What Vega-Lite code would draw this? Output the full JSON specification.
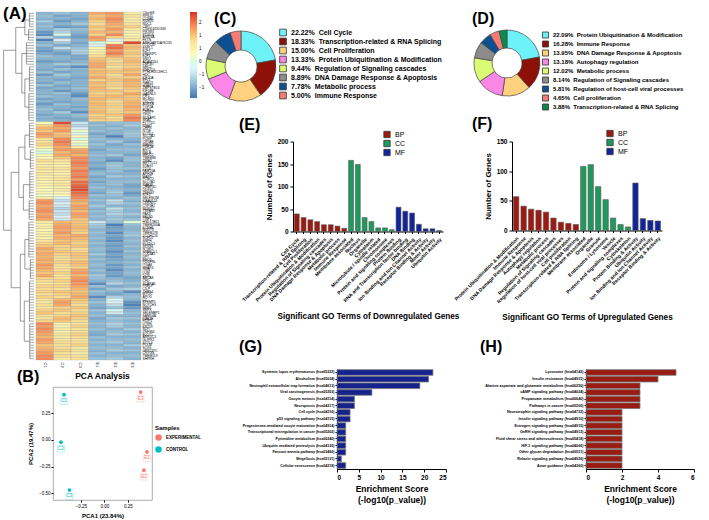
{
"$schema":"https://vega.github.io/schema/vega-lite/v6.json",
"background":"white",
"padding":{"left":3,"top":4,"right":0,"bottom":0},
"config":{"font":"Liberation Sans","view":{"stroke":null},"axis":{"grid":false,"domainColor":"#000","tickColor":"#000","labelColor":"#000","titleColor":"#000"},"title":{"color":"#000"},"legend":{"labelColor":"#000","titleColor":"#000"}},
"datasets":{
"genes":[
{"i":1,"g":"C6orf48","h":0.15,"C1":-0.9,"C2":-0.8,"C3":-0.9,"E1":1.2,"E2":1.3,"E3":0.6},
{"i":2,"g":"RPS15","h":0.15,"C1":-0.8,"C2":-1.0,"C3":-0.9,"E1":1.0,"E2":1.2,"E3":0.7},
{"i":3,"g":"CCNB1","h":0.15,"C1":-0.9,"C2":-0.9,"C3":-1.0,"E1":1.1,"E2":1.4,"E3":0.5},
{"i":4,"g":"RUNX1","h":0.15,"C1":-0.7,"C2":-1.1,"C3":-0.9,"E1":0.9,"E2":1.3,"E3":0.6},
{"i":5,"g":"NDC1","h":0.15,"C1":-0.9,"C2":-0.9,"C3":-0.7,"E1":0.8,"E2":1.2,"E3":0.7},
{"i":6,"g":"CIRT","h":0.15,"C1":-0.8,"C2":-1.1,"C3":-1.0,"E1":1.0,"E2":1.1,"E3":0.9},
{"i":7,"g":"C5orf24/DDX46","h":0.18,"C1":-0.9,"C2":-0.7,"C3":-0.8,"E1":0.9,"E2":1.3,"E3":0.6},
{"i":8,"g":"PIK3R3","h":0.18,"C1":-1.1,"C2":-0.6,"C3":-0.9,"E1":1.1,"E2":1.1,"E3":0.5},
{"i":9,"g":"PTGDS","h":0.18,"C1":-1.2,"C2":-0.1,"C3":-1.0,"E1":0.9,"E2":1.4,"E3":0.4},
{"i":10,"g":"ARID4A","h":0.18,"C1":-0.6,"C2":-0.9,"C3":-1.1,"E1":1.3,"E2":0.9,"E3":0.6},
{"i":11,"g":"FKTN","h":0.18,"C1":-1.3,"C2":-0.3,"C3":-0.9,"E1":1.2,"E2":-0.3,"E3":0.6},
{"i":12,"g":"ARHGAP11A/SCG5","h":0.25,"C1":-0.9,"C2":-0.7,"C3":-1.0,"E1":0.0,"E2":0.3,"E3":1.8},
{"i":13,"g":"CCDC47","h":0.25,"C1":-0.8,"C2":-1.0,"C3":-0.9,"E1":-0.3,"E2":1.5,"E3":1.0},
{"i":14,"g":"ESPL1","h":0.25,"C1":-1.0,"C2":-0.5,"C3":-0.8,"E1":0.4,"E2":1.6,"E3":1.1},
{"i":15,"g":"E2F7","h":0.25,"C1":-1.1,"C2":-0.9,"C3":-0.6,"E1":0.5,"E2":1.3,"E3":0.9},
{"i":16,"g":"PRKRIP1","h":0.25,"C1":-1.0,"C2":-1.1,"C3":-0.7,"E1":0.6,"E2":1.5,"E3":1.0},
{"i":17,"g":"E2F1","h":0.25,"C1":-0.8,"C2":-0.9,"C3":-1.0,"E1":0.8,"E2":1.2,"E3":0.9},
{"i":18,"g":"SNX7","h":0.25,"C1":-0.9,"C2":-0.9,"C3":-1.0,"E1":1.0,"E2":0.9,"E3":1.0},
{"i":19,"g":"ADAMTS1","h":0.25,"C1":-1.1,"C2":-1.0,"C3":-0.9,"E1":1.1,"E2":0.8,"E3":1.1},
{"i":20,"g":"ZNF367","h":0.25,"C1":-0.9,"C2":-0.7,"C3":-0.8,"E1":1.2,"E2":0.9,"E3":1.0},
{"i":21,"g":"SMC2","h":0.15,"C1":-0.9,"C2":-1.0,"C3":-1.2,"E1":1.2,"E2":0.7,"E3":0.9},
{"i":22,"g":"RNF213","h":0.15,"C1":-1.0,"C2":-0.8,"C3":-0.9,"E1":1.0,"E2":0.9,"E3":1.1},
{"i":23,"g":"PTHLH/ZC3HC1","h":0.15,"C1":-0.8,"C2":-1.0,"C3":-0.9,"E1":1.1,"E2":1.0,"E3":1.0},
{"i":24,"g":"HDC","h":0.15,"C1":-1.1,"C2":-0.7,"C3":-0.9,"E1":1.0,"E2":0.8,"E3":1.2},
{"i":25,"g":"KIF20A","h":0.15,"C1":-0.9,"C2":-0.9,"C3":-1.0,"E1":1.2,"E2":0.9,"E3":0.9},
{"i":26,"g":"EFL1","h":0.15,"C1":-0.9,"C2":-1.0,"C3":-0.9,"E1":0.9,"E2":1.0,"E3":1.2},
{"i":27,"g":"RAB13","h":0.15,"C1":-1.0,"C2":-0.8,"C3":-0.9,"E1":1.1,"E2":0.9,"E3":1.1},
{"i":28,"g":"HSBP1","h":0.15,"C1":-0.8,"C2":-1.0,"C3":-0.9,"E1":1.0,"E2":0.9,"E3":1.1},
{"i":29,"g":"ZMPSTE24","h":0.15,"C1":-1.0,"C2":-0.9,"C3":-0.8,"E1":1.1,"E2":0.8,"E3":1.0},
{"i":30,"g":"KIF18B","h":0.15,"C1":-0.9,"C2":-1.1,"C3":-0.9,"E1":1.0,"E2":1.0,"E3":0.9},
{"i":31,"g":"GARNL3","h":0.17,"C1":-0.9,"C2":-0.8,"C3":-1.1,"E1":0.9,"E2":0.9,"E3":1.2},
{"i":32,"g":"PIF1","h":0.17,"C1":-0.8,"C2":-0.9,"C3":-1.2,"E1":1.0,"E2":1.1,"E3":1.0},
{"i":33,"g":"MCM10","h":0.17,"C1":-1.0,"C2":-0.9,"C3":-0.8,"E1":1.1,"E2":1.0,"E3":1.0},
{"i":34,"g":"CDC20","h":0.17,"C1":-0.9,"C2":-1.0,"C3":-0.9,"E1":1.0,"E2":0.8,"E3":1.1},
{"i":35,"g":"AURKB","h":0.17,"C1":-1.1,"C2":-0.8,"C3":-0.9,"E1":1.1,"E2":0.9,"E3":1.1},
{"i":36,"g":"TOP2A","h":0.17,"C1":-0.9,"C2":-0.9,"C3":-1.0,"E1":1.0,"E2":0.9,"E3":1.2},
{"i":37,"g":"BUB1","h":0.17,"C1":-0.8,"C2":-1.0,"C3":-0.9,"E1":1.0,"E2":0.8,"E3":1.1},
{"i":38,"g":"CENPF","h":0.17,"C1":-0.9,"C2":-0.7,"C3":-1.2,"E1":1.1,"E2":0.9,"E3":1.0},
{"i":39,"g":"TPX2","h":0.17,"C1":-1.0,"C2":-0.9,"C3":-0.8,"E1":0.9,"E2":1.0,"E3":1.3},
{"i":40,"g":"NUSAP1","h":0.17,"C1":-0.9,"C2":-1.0,"C3":-0.9,"E1":1.0,"E2":0.8,"E3":1.5},
{"i":41,"g":"SKA1","h":0.17,"C1":-0.9,"C2":-0.9,"C3":-1.0,"E1":0.9,"E2":0.9,"E3":1.4},
{"i":42,"g":"FYTTD1","h":0.15,"C1":0.3,"C2":1.8,"C3":-0.4,"E1":-0.9,"E2":-0.8,"E3":-0.8},
{"i":43,"g":"RNMT","h":0.15,"C1":0.9,"C2":1.3,"C3":-0.6,"E1":-0.8,"E2":-0.9,"E3":-0.7},
{"i":44,"g":"CHFR","h":0.15,"C1":1.1,"C2":1.2,"C3":-0.3,"E1":-0.9,"E2":-0.8,"E3":-0.9},
{"i":45,"g":"NT5E","h":0.15,"C1":1.0,"C2":1.3,"C3":0.2,"E1":-0.8,"E2":-0.9,"E3":-0.8},
{"i":46,"g":"KCTD2","h":0.15,"C1":1.3,"C2":1.0,"C3":-0.2,"E1":-1.0,"E2":-0.9,"E3":-0.7},
{"i":47,"g":"SLC1A2","h":0.15,"C1":1.2,"C2":1.1,"C3":0.4,"E1":-0.9,"E2":-1.3,"E3":-0.8},
{"i":48,"g":"PCNP","h":0.15,"C1":0.8,"C2":1.4,"C3":0.0,"E1":-0.8,"E2":-0.9,"E3":-0.9},
{"i":49,"g":"CRYAB","h":0.15,"C1":0.7,"C2":1.5,"C3":0.3,"E1":-0.9,"E2":-0.7,"E3":-1.0},
{"i":50,"g":"RBMS1","h":0.15,"C1":0.9,"C2":1.4,"C3":0.1,"E1":-0.8,"E2":-1.0,"E3":-0.8},
{"i":51,"g":"PDE1A","h":0.15,"C1":0.6,"C2":1.2,"C3":0.6,"E1":-0.9,"E2":-0.9,"E3":-0.9},
{"i":52,"g":"BST2","h":0.12,"C1":0.2,"C2":1.3,"C3":1.2,"E1":-1.0,"E2":-0.8,"E3":-0.8},
{"i":53,"g":"RELB","h":0.12,"C1":0.0,"C2":1.1,"C3":1.3,"E1":-0.9,"E2":-0.9,"E3":-0.9},
{"i":54,"g":"MED22","h":0.12,"C1":0.4,"C2":1.2,"C3":1.1,"E1":-0.8,"E2":-0.7,"E3":-1.0},
{"i":55,"g":"TMEM86","h":0.12,"C1":0.3,"C2":1.0,"C3":1.4,"E1":-0.9,"E2":-1.0,"E3":-0.8},
{"i":56,"g":"TRIB2","h":0.12,"C1":0.8,"C2":0.7,"C3":1.4,"E1":-0.9,"E2":-1.2,"E3":-0.8},
{"i":57,"g":"METTL15","h":0.12,"C1":0.6,"C2":0.6,"C3":1.5,"E1":-1.0,"E2":-0.8,"E3":-0.9},
{"i":58,"g":"STAG1","h":0.12,"C1":0.6,"C2":0.5,"C3":1.4,"E1":-0.9,"E2":-0.7,"E3":-0.9},
{"i":59,"g":"TTC6","h":0.12,"C1":0.7,"C2":0.7,"C3":1.3,"E1":-1.1,"E2":-0.8,"E3":-0.8},
{"i":60,"g":"FAM13A","h":0.14,"C1":0.6,"C2":0.6,"C3":1.5,"E1":-0.9,"E2":-0.8,"E3":-1.0},
{"i":61,"g":"APH1B","h":0.14,"C1":0.7,"C2":0.5,"C3":1.4,"E1":-0.8,"E2":-0.9,"E3":-0.9},
{"i":62,"g":"MAPT","h":0.14,"C1":0.5,"C2":0.6,"C3":1.5,"E1":-1.0,"E2":-0.7,"E3":-0.8},
{"i":63,"g":"POMT2","h":0.14,"C1":0.6,"C2":0.7,"C3":1.3,"E1":-0.9,"E2":-0.9,"E3":-0.9},
{"i":64,"g":"SLC7A2","h":0.14,"C1":0.4,"C2":0.6,"C3":1.6,"E1":-1.0,"E2":-0.8,"E3":-0.8},
{"i":65,"g":"RAB38","h":0.14,"C1":0.5,"C2":0.7,"C3":1.6,"E1":-0.9,"E2":-0.8,"E3":-1.0},
{"i":66,"g":"CHMP4C","h":0.14,"C1":0.4,"C2":0.5,"C3":1.7,"E1":-0.8,"E2":-0.9,"E3":-1.0},
{"i":67,"g":"DDX60","h":0.14,"C1":0.3,"C2":0.6,"C3":1.8,"E1":-0.9,"E2":-0.8,"E3":-0.9},
{"i":68,"g":"ZNF667","h":0.14,"C1":0.4,"C2":0.4,"C3":1.6,"E1":-1.0,"E2":-0.7,"E3":-1.1},
{"i":69,"g":"RTF2","h":0.14,"C1":0.2,"C2":0.3,"C3":1.5,"E1":-0.8,"E2":-0.8,"E3":-1.0},
{"i":70,"g":"SELENOM","h":0.14,"C1":0.6,"C2":-0.2,"C3":1.4,"E1":-0.9,"E2":-0.9,"E3":-0.8},
{"i":71,"g":"KIAA0513","h":0.16,"C1":1.3,"C2":-0.5,"C3":1.2,"E1":-0.8,"E2":-0.5,"E3":-0.9},
{"i":72,"g":"CDKN2C","h":0.16,"C1":1.4,"C2":-0.3,"C3":1.1,"E1":-0.9,"E2":-0.6,"E3":-0.8},
{"i":73,"g":"CYP1B1","h":0.16,"C1":1.2,"C2":-0.4,"C3":1.3,"E1":-0.7,"E2":-0.9,"E3":-0.9},
{"i":74,"g":"NDRG2","h":0.16,"C1":1.3,"C2":-0.6,"C3":1.2,"E1":-0.9,"E2":-0.5,"E3":-0.8},
{"i":75,"g":"TSPAN7","h":0.16,"C1":1.4,"C2":-0.4,"C3":1.1,"E1":-0.8,"E2":-0.7,"E3":-0.9},
{"i":76,"g":"PAK3","h":0.16,"C1":1.2,"C2":-0.5,"C3":1.3,"E1":-0.9,"E2":-0.6,"E3":-0.7},
{"i":77,"g":"FBLN5","h":0.16,"C1":1.3,"C2":-0.3,"C3":1.2,"E1":-0.8,"E2":-0.8,"E3":-0.9},
{"i":78,"g":"TINF2","h":0.16,"C1":1.2,"C2":-0.4,"C3":1.0,"E1":-0.9,"E2":-0.7,"E3":-0.8},
{"i":79,"g":"HSD17B12","h":0.17,"C1":0.6,"C2":1.1,"C3":1.0,"E1":-0.4,"E2":-0.8,"E3":0.1},
{"i":80,"g":"TMEM200A","h":0.17,"C1":0.5,"C2":1.2,"C3":1.0,"E1":-0.7,"E2":-1.3,"E3":-0.8},
{"i":81,"g":"KCNH6","h":0.17,"C1":0.6,"C2":1.3,"C3":1.1,"E1":-0.8,"E2":-1.1,"E3":-0.9},
{"i":82,"g":"NUDT9","h":0.17,"C1":0.4,"C2":1.2,"C3":1.0,"E1":-0.9,"E2":-1.0,"E3":-0.9},
{"i":83,"g":"TMEM178","h":0.17,"C1":0.5,"C2":1.3,"C3":0.9,"E1":-0.8,"E2":-1.2,"E3":-0.8},
{"i":84,"g":"ZCCHC24","h":0.17,"C1":0.6,"C2":1.1,"C3":1.2,"E1":-0.9,"E2":-1.0,"E3":-0.7},
{"i":85,"g":"SCFD2","h":0.17,"C1":0.5,"C2":1.2,"C3":1.1,"E1":-0.8,"E2":-1.1,"E3":-0.9},
{"i":86,"g":"SNPH","h":0.17,"C1":0.7,"C2":1.0,"C3":1.0,"E1":-0.9,"E2":-1.2,"E3":-0.8},
{"i":87,"g":"PLXDC1","h":0.17,"C1":0.9,"C2":1.1,"C3":0.9,"E1":-0.8,"E2":-1.0,"E3":-0.9},
{"i":88,"g":"SFXN3","h":0.17,"C1":1.0,"C2":0.9,"C3":1.0,"E1":-0.9,"E2":-1.1,"E3":-0.8},
{"i":89,"g":"NTSR2","h":0.17,"C1":1.2,"C2":0.9,"C3":0.8,"E1":-0.8,"E2":-1.0,"E3":-0.9},
{"i":90,"g":"SPARCL1","h":0.17,"C1":1.1,"C2":1.0,"C3":0.9,"E1":-0.9,"E2":-1.2,"E3":-0.8},
{"i":91,"g":"COL4A5","h":0.17,"C1":1.2,"C2":0.9,"C3":1.0,"E1":-0.7,"E2":-1.0,"E3":-0.9},
{"i":92,"g":"DPT","h":0.17,"C1":1.1,"C2":0.8,"C3":1.0,"E1":-0.9,"E2":-1.1,"E3":-0.8},
{"i":93,"g":"FMOD","h":0.12,"C1":1.2,"C2":0.8,"C3":0.9,"E1":-0.8,"E2":-1.0,"E3":-0.9},
{"i":94,"g":"PDGFRL","h":0.12,"C1":1.1,"C2":0.9,"C3":1.1,"E1":-0.9,"E2":-0.9,"E3":-0.8},
{"i":95,"g":"ITGA8","h":0.12,"C1":1.3,"C2":0.8,"C3":1.0,"E1":-0.8,"E2":-1.1,"E3":-0.9},
{"i":96,"g":"MFAP4","h":0.12,"C1":1.2,"C2":0.7,"C3":0.9,"E1":-0.9,"E2":-1.0,"E3":-0.8},
{"i":97,"g":"OGN","h":0.12,"C1":1.1,"C2":0.8,"C3":1.2,"E1":-0.8,"E2":-1.2,"E3":-0.9},
{"i":98,"g":"LUM","h":0.12,"C1":1.0,"C2":0.9,"C3":1.3,"E1":-0.9,"E2":-1.0,"E3":-0.8},
{"i":99,"g":"DCN","h":0.12,"C1":1.2,"C2":0.7,"C3":1.1,"E1":-0.7,"E2":-1.1,"E3":-0.9},
{"i":100,"g":"ABCA8","h":0.12,"C1":0.9,"C2":0.8,"C3":1.3,"E1":-0.8,"E2":-0.9,"E3":-1.0},
{"i":101,"g":"CFD","h":0.15,"C1":0.8,"C2":0.9,"C3":1.4,"E1":-0.9,"E2":-0.8,"E3":-0.9},
{"i":102,"g":"SCARA5","h":0.15,"C1":0.7,"C2":0.8,"C3":1.3,"E1":-1.2,"E2":-0.6,"E3":-0.8},
{"i":103,"g":"PRELP","h":0.15,"C1":0.9,"C2":0.9,"C3":1.2,"E1":-0.8,"E2":-1.0,"E3":-0.9},
{"i":104,"g":"CILP","h":0.15,"C1":0.8,"C2":0.7,"C3":1.1,"E1":-1.0,"E2":-0.7,"E3":-0.6},
{"i":105,"g":"THBS4","h":0.15,"C1":0.9,"C2":1.0,"C3":1.0,"E1":-0.8,"E2":-0.9,"E3":-1.2},
{"i":106,"g":"MYOC","h":0.15,"C1":0.8,"C2":0.9,"C3":1.1,"E1":-0.9,"E2":-1.0,"E3":-0.9},
{"i":107,"g":"APOD","h":0.15,"C1":0.9,"C2":0.8,"C3":1.2,"E1":-1.2,"E2":-0.6,"E3":-0.8},
{"i":108,"g":"C7","h":0.15,"C1":0.7,"C2":1.1,"C3":1.0,"E1":-0.9,"E2":-0.2,"E3":-0.9},
{"i":109,"g":"EFEMP1","h":0.15,"C1":0.6,"C2":1.3,"C3":0.9,"E1":-0.8,"E2":-0.3,"E3":-1.2},
{"i":110,"g":"NOTCH3","h":0.15,"C1":0.8,"C2":1.2,"C3":0.8,"E1":-0.9,"E2":-0.5,"E3":-1.3},
{"i":111,"g":"NPNT","h":0.15,"C1":0.7,"C2":0.9,"C3":1.0,"E1":-1.0,"E2":-0.8,"E3":-1.1},
{"i":112,"g":"SRPX","h":0.15,"C1":0.9,"C2":1.0,"C3":0.8,"E1":-0.8,"E2":-0.1,"E3":-0.9},
{"i":113,"g":"SELENBP1","h":0.15,"C1":1.0,"C2":0.8,"C3":0.9,"E1":-0.9,"E2":-0.4,"E3":-0.8},
{"i":114,"g":"SAMD4A","h":0.15,"C1":0.8,"C2":0.9,"C3":1.0,"E1":-0.8,"E2":-0.9,"E3":-0.9},
{"i":115,"g":"RAB3B","h":0.15,"C1":0.7,"C2":1.1,"C3":0.9,"E1":-1.0,"E2":-0.7,"E3":-0.8},
{"i":116,"g":"FILIP1","h":0.15,"C1":0.9,"C2":1.0,"C3":0.8,"E1":-0.9,"E2":-0.8,"E3":-0.9},
{"i":117,"g":"UTRN","h":0.14,"C1":1.4,"C2":0.5,"C3":0.8,"E1":-0.8,"E2":-0.6,"E3":-0.8},
{"i":118,"g":"KRT19","h":0.14,"C1":1.3,"C2":0.4,"C3":0.9,"E1":-0.9,"E2":-0.7,"E3":-0.9},
{"i":119,"g":"SLPI","h":0.14,"C1":1.4,"C2":0.6,"C3":0.7,"E1":-0.8,"E2":-0.9,"E3":-0.7},
{"i":120,"g":"ZNF384","h":0.14,"C1":1.3,"C2":0.5,"C3":0.8,"E1":-0.9,"E2":-0.8,"E3":-0.9},
{"i":121,"g":"FLOT1","h":0.14,"C1":1.2,"C2":0.7,"C3":0.9,"E1":-1.0,"E2":-0.7,"E3":-0.8},
{"i":122,"g":"ARRDC3","h":0.14,"C1":1.1,"C2":0.6,"C3":0.8,"E1":-0.8,"E2":-0.9,"E3":-0.9},
{"i":123,"g":"GLIPR2","h":0.14,"C1":1.3,"C2":0.7,"C3":0.7,"E1":-0.9,"E2":-0.8,"E3":-0.8},
{"i":124,"g":"SYTL4","h":0.14,"C1":1.2,"C2":0.8,"C3":0.8,"E1":-0.8,"E2":-0.7,"E3":-0.9},
{"i":125,"g":"POLM","h":0.14,"C1":1.0,"C2":0.7,"C3":0.9,"E1":-0.9,"E2":-0.9,"E3":-0.7},
{"i":126,"g":"SOX6","h":0.14,"C1":1.1,"C2":0.8,"C3":0.6,"E1":-0.8,"E2":-0.8,"E3":-0.9},
{"i":127,"g":"GPR137C","h":0.14,"C1":1.2,"C2":0.9,"C3":0.7,"E1":-0.9,"E2":-0.7,"E3":-0.8},
{"i":128,"g":"CRYGS","h":0.14,"C1":1.3,"C2":0.7,"C3":0.6,"E1":-0.8,"E2":-0.9,"E3":-0.9},
{"i":129,"g":"TMEM119","h":0.14,"C1":1.4,"C2":0.8,"C3":0.7,"E1":-0.9,"E2":-0.8,"E3":-0.8},
{"i":130,"g":"SHPRH","h":0.14,"C1":1.4,"C2":0.6,"C3":0.8,"E1":-0.8,"E2":-0.7,"E3":-0.9}
],
"seg":[
{"x":0.15,"x2":0.15,"y":1,"y2":6},{"x":0.18,"x2":0.18,"y":7,"y2":11},{"x":0.25,"x2":0.25,"y":12,"y2":20},{"x":0.15,"x2":0.15,"y":21,"y2":30},{"x":0.17,"x2":0.17,"y":31,"y2":41},{"x":0.15,"x2":0.15,"y":42,"y2":51},{"x":0.12,"x2":0.12,"y":52,"y2":59},{"x":0.14,"x2":0.14,"y":60,"y2":70},{"x":0.16,"x2":0.16,"y":71,"y2":78},{"x":0.17,"x2":0.17,"y":79,"y2":92},{"x":0.12,"x2":0.12,"y":93,"y2":100},{"x":0.15,"x2":0.15,"y":101,"y2":116},{"x":0.14,"x2":0.14,"y":117,"y2":130},
{"x":0.15,"x2":0.3,"y":3.5,"y2":3.5},{"x":0.18,"x2":0.3,"y":9,"y2":9},{"x":0.3,"x2":0.3,"y":3.5,"y2":9},
{"x":0.15,"x2":0.3,"y":25.5,"y2":25.5},{"x":0.17,"x2":0.3,"y":36,"y2":36},{"x":0.3,"x2":0.3,"y":25.5,"y2":36},
{"x":0.25,"x2":0.4,"y":16,"y2":16},{"x":0.3,"x2":0.4,"y":30.75,"y2":30.75},{"x":0.4,"x2":0.4,"y":16,"y2":30.75},
{"x":0.3,"x2":0.6,"y":6.25,"y2":6.25},{"x":0.4,"x2":0.6,"y":23.4,"y2":23.4},{"x":0.6,"x2":0.6,"y":6.25,"y2":23.4},
{"x":0.15,"x2":0.3,"y":46.5,"y2":46.5},{"x":0.12,"x2":0.3,"y":55.5,"y2":55.5},{"x":0.3,"x2":0.3,"y":46.5,"y2":55.5},
{"x":0.14,"x2":0.35,"y":65,"y2":65},{"x":0.16,"x2":0.35,"y":74.5,"y2":74.5},{"x":0.35,"x2":0.35,"y":65,"y2":74.5},
{"x":0.3,"x2":0.5,"y":51,"y2":51},{"x":0.35,"x2":0.5,"y":69.75,"y2":69.75},{"x":0.5,"x2":0.5,"y":51,"y2":69.75},
{"x":0.17,"x2":0.3,"y":85.5,"y2":85.5},{"x":0.12,"x2":0.3,"y":96.5,"y2":96.5},{"x":0.3,"x2":0.3,"y":85.5,"y2":96.5},
{"x":0.15,"x2":0.32,"y":108.5,"y2":108.5},{"x":0.14,"x2":0.32,"y":123.5,"y2":123.5},{"x":0.32,"x2":0.32,"y":108.5,"y2":123.5},
{"x":0.3,"x2":0.45,"y":91,"y2":91},{"x":0.32,"x2":0.45,"y":116,"y2":116},{"x":0.45,"x2":0.45,"y":91,"y2":116},
{"x":0.5,"x2":0.75,"y":60.4,"y2":60.4},{"x":0.45,"x2":0.75,"y":103.5,"y2":103.5},{"x":0.75,"x2":0.75,"y":60.4,"y2":103.5},
{"x":0.6,"x2":1,"y":14.8,"y2":14.8},{"x":0.75,"x2":1,"y":82,"y2":82},{"x":1,"x2":1,"y":14.8,"y2":82}
]
},
"spacing":-3,
"resolve":{"scale":{"color":"independent"},"legend":{"color":"independent"}},
"hconcat":[
{"spacing":1,
 "resolve":{"scale":{"color":"independent"},"legend":{"color":"independent"}},
 "vconcat":[
 {"spacing":0,
  "resolve":{"scale":{"color":"independent"},"legend":{"color":"independent"}},
  "hconcat":[
   {"title":{"text":"(A)","anchor":"start","frame":"group","fontSize":17,"fontWeight":"bold","offset":-10.5},
    "width":31,"height":348,
    "layer":[
     {"data":{"name":"genes"},"mark":{"type":"rule","color":"#555","strokeWidth":0.5},
      "encoding":{"y":{"field":"i","type":"quantitative","scale":{"domain":[0.5,130.5],"reverse":true,"nice":false,"zero":false},"axis":null},
       "x":{"field":"h","type":"quantitative","scale":{"domain":[0,1.02],"reverse":true,"nice":false,"zero":false},"axis":null},
       "x2":{"datum":0}}},
     {"data":{"name":"seg"},"mark":{"type":"rule","color":"#555","strokeWidth":0.6},
      "encoding":{"y":{"field":"y","type":"quantitative"},"y2":{"field":"y2"},"x":{"field":"x","type":"quantitative"},"x2":{"field":"x2"}}}
    ]},
   {"width":105,"height":348,
    "data":{"name":"genes"},
    "transform":[{"fold":["C1","C2","C3","E1","E2","E3"],"as":["s","v"]}],
    "mark":{"type":"rect","stroke":"#8a8a8a","strokeWidth":0.25},
    "encoding":{
     "x":{"field":"s","type":"nominal","sort":null,"scale":{"paddingInner":0,"paddingOuter":0},"axis":{"title":null,"labelAngle":90,"labelFontSize":4,"ticks":false,"domain":false,"labelPadding":2}},
     "y":{"field":"g","type":"nominal","sort":null,"scale":{"paddingInner":0,"paddingOuter":0},"axis":{"orient":"right","title":null,"labelFontSize":3.3,"ticks":false,"domain":false,"labelPadding":1,"labelOverlap":false,"labelLimit":100}},
     "color":{"field":"v","type":"quantitative","scale":{"domain":[-1.38,-0.83,-0.28,0.27,0.82,1.37,1.92],"range":["#4575B4","#91BFDB","#E0F3F8","#FFFFBF","#FEE090","#FC8D59","#D73027"]},
      "legend":{"title":null,"orient":"none","legendX":154,"legendY":0,"direction":"vertical","gradientLength":86,"gradientThickness":7,"labelFontSize":4.5,"values":[-1,-0.5,0,0.5,1,1.5],"padding":0}}
    }}
  ]},
 {"spacing":0,
  "title":{"text":"(B)","anchor":"start","frame":"group","fontSize":16,"fontWeight":"bold","offset":-14,"dx":14},
  "resolve":{"scale":{"color":"independent"},"legend":{"color":"independent"}},
  "hconcat":[
   {"width":24,"height":113,"data":{"values":[]},"mark":{"type":"point","opacity":0},"encoding":{}},
   {"title":{"text":"PCA Analysis","fontSize":8.5,"fontWeight":"bold","anchor":"middle","offset":7},
    "width":99,"height":113,
    "view":{"stroke":"#999","strokeWidth":0.8},
    "data":{"values":[
     {"id":"C1","Samples":"CONTROL","PC1":-0.429,"PC2":0.422},
     {"id":"C2","Samples":"CONTROL","PC1":-0.461,"PC2":-0.022},
     {"id":"C3","Samples":"CONTROL","PC1":-0.371,"PC2":-0.469},
     {"id":"E1","Samples":"EXPERIMENTAL","PC1":0.454,"PC2":-0.113},
     {"id":"E2","Samples":"EXPERIMENTAL","PC1":0.421,"PC2":-0.284},
     {"id":"E3","Samples":"EXPERIMENTAL","PC1":0.386,"PC2":0.447}
    ]},
    "encoding":{
     "x":{"field":"PC1","type":"quantitative","scale":{"domain":[-0.546,0.507],"nice":false,"zero":false},"axis":{"values":[-0.25,0,0.25],"format":".2f","title":"PCA1 (23.84%)","labelFontSize":4.5,"titleFontSize":6,"titleFontWeight":"bold","domain":false,"tickSize":2,"labelPadding":1,"titlePadding":5}},
     "y":{"field":"PC2","type":"quantitative","scale":{"domain":[-0.5625,0.494],"nice":false,"zero":false},"axis":{"values":[-0.5,-0.25,0,0.25],"format":".2f","title":"PCA2 (19.47%)","labelFontSize":4.5,"titleFontSize":6,"titleFontWeight":"bold","domain":false,"tickSize":2,"labelPadding":1,"titlePadding":5}},
     "color":{"field":"Samples","type":"nominal","scale":{"domain":["EXPERIMENTAL","CONTROL"],"range":["#F8766D","#00BFC4"]},
      "legend":{"title":"Samples","orient":"none","legendX":102,"legendY":38,"titleFontSize":6,"titleFontWeight":"bold","labelFontSize":4.5,"labelFontWeight":"bold","symbolType":"circle","symbolSize":25,"rowPadding":1,"titlePadding":3}}
    },
    "layer":[
     {"mark":{"type":"point","filled":true,"size":14,"opacity":1}},
     {"mark":{"type":"point","shape":"square","filled":false,"size":45,"yOffset":6.5,"strokeWidth":0.4,"opacity":0.6}},
     {"mark":{"type":"text","dy":6.5,"fontSize":4.5},"encoding":{"text":{"field":"id"}}}
    ]}
  ]}
 ]},
{"spacing":-4.5,
 "resolve":{"scale":{"color":"independent"},"legend":{"color":"independent"}},
 "vconcat":[
 {"spacing":30,
  "resolve":{"scale":{"color":"independent"},"legend":{"color":"independent"}},
  "hconcat":[
  {"title":{"text":"(C)","anchor":"start","frame":"group","fontSize":16,"fontWeight":"bold","offset":-14.5,"dx":9},
   "width":72,"height":108,
   "data":{"values":[
    {"k":"22.22%\u00a0 Cell Cycle","p":22.22,"o":1},
    {"k":"18.33%\u00a0 Transcription-related & RNA Splicing","p":18.33,"o":2},
    {"k":"15.00%\u00a0 Cell Proliferation","p":15.00,"o":3},
    {"k":"13.33%\u00a0 Protein Ubiquitination & Modification","p":13.33,"o":4},
    {"k":"9.44%\u00a0 Regulation of Signaling cascades","p":9.44,"o":5},
    {"k":"8.89%\u00a0 DNA Damage Response & Apoptosis","p":8.89,"o":6},
    {"k":"7.78%\u00a0 Metabolic process","p":7.78,"o":7},
    {"k":"5.00%\u00a0 Immune Response","p":5.00,"o":8}
   ]},
   "mark":{"type":"arc","innerRadius":16,"outerRadius":35,"stroke":"#444","strokeWidth":0.7},
   "encoding":{
    "theta":{"field":"p","type":"quantitative","stack":true},
    "order":{"field":"o","type":"quantitative"},
    "color":{"field":"k","type":"nominal","sort":null,"scale":{"range":["#6DF2F7","#8E1108","#FED17F","#FA86E6","#DBFB74","#8C8C8C","#0E4F92","#F47B76"]},
     "legend":{"title":null,"orient":"none","legendX":74,"legendY":16.5,"direction":"vertical","symbolType":"square","symbolSize":45,"symbolStrokeColor":"#333","symbolStrokeWidth":0.8,"labelFontSize":7,"labelFontWeight":"bold","rowPadding":-3,"labelLimit":300,"padding":0}}
   }},
  {"title":{"text":"(D)","anchor":"start","frame":"group","fontSize":16,"fontWeight":"bold","offset":-14.5,"dx":-2},
   "width":66,"height":102,
   "data":{"values":[
    {"k":"22.09%\u00a0 Protein Ubiquitination & Modification","p":22.09,"o":1},
    {"k":"16.28%\u00a0 Immune Response","p":16.28,"o":2},
    {"k":"13.95%\u00a0 DNA Damage Response & Apoptosis","p":13.95,"o":3},
    {"k":"13.18%\u00a0 Autophagy regulation","p":13.18,"o":4},
    {"k":"12.02%\u00a0 Metabolic process","p":12.02,"o":5},
    {"k":"8.14%\u00a0 Regulation of Signaling cascades","p":8.14,"o":6},
    {"k":"5.81%\u00a0 Regulation of host-cell viral processes","p":5.81,"o":7},
    {"k":"4.65%\u00a0 Cell proliferation","p":4.65,"o":8},
    {"k":"3.88%\u00a0 Transcription-related & RNA Splicing","p":3.88,"o":9}
   ]},
   "mark":{"type":"arc","innerRadius":15,"outerRadius":33,"stroke":"#444","strokeWidth":0.7},
   "encoding":{
    "theta":{"field":"p","type":"quantitative","stack":true},
    "order":{"field":"o","type":"quantitative"},
    "color":{"field":"k","type":"nominal","sort":null,"scale":{"range":["#6DF2F7","#8E1108","#FED17F","#FA86E6","#DBFB74","#8C8C8C","#0E4F92","#F47B76","#0B8A4F"]},
     "legend":{"title":null,"orient":"none","legendX":68,"legendY":19.5,"direction":"vertical","symbolType":"square","symbolSize":36,"symbolStrokeColor":"#333","symbolStrokeWidth":0.8,"labelFontSize":6,"labelFontWeight":"bold","rowPadding":-3.4,"labelLimit":300,"padding":0}}
   }}
 ]},
 {"spacing":-6,
  "resolve":{"scale":{"color":"independent"},"legend":{"color":"independent"}},
  "hconcat":[
  {"width":40,"height":202,"data":{"values":[]},"mark":{"type":"point","opacity":0},"encoding":{}},
  {"title":{"text":"(E)","anchor":"start","frame":"group","fontSize":16,"fontWeight":"bold","offset":-2,"dx":-54},
   "width":150,"height":90,
   "data":{"values":[
    {"t":"Cell Cycle","c":"BP","n":39},
    {"t":"Transcription-related & RNA Splicing","c":"BP","n":31},
    {"t":"Cell Proliferation","c":"BP","n":26},
    {"t":"Protein Ubiquitination & Modification","c":"BP","n":22},
    {"t":"Regulation of Signaling cascades","c":"BP","n":15},
    {"t":"DNA Damage Response & Apoptosis","c":"BP","n":15},
    {"t":"Metabolic process","c":"BP","n":12},
    {"t":"Immune Response","c":"BP","n":7},
    {"t":"Membrane associated","c":"CC","n":158},
    {"t":"Nucleus","c":"CC","n":149},
    {"t":"Organelle","c":"CC","n":31},
    {"t":"Cytoplasm","c":"CC","n":22},
    {"t":"Microtubule / spindle related","c":"CC","n":8},
    {"t":"Chromosome","c":"CC","n":8},
    {"t":"Protein and signaling complexes","c":"CC","n":4},
    {"t":"Protein Binding","c":"MF","n":54},
    {"t":"RNA and Transcription factor binding","c":"MF","n":45},
    {"t":"DNA Binding","c":"MF","n":41},
    {"t":"Ion Binding and Ion Channel Activity","c":"MF","n":16},
    {"t":"Receptor Binding & Activity","c":"MF","n":6},
    {"t":"Motor Activity","c":"MF","n":6},
    {"t":"Ubiquitin Activity","c":"MF","n":2}
   ]},
   "mark":{"type":"bar","stroke":"#555","strokeWidth":0.6},
   "encoding":{
    "x":{"field":"t","type":"nominal","sort":null,"title":"Significant GO Terms of Downregulated Genes","scale":{"paddingInner":0.28,"paddingOuter":0.2},"axis":{"labelAngle":-45,"labelFontSize":5,"labelFontWeight":"bold","labelLimit":300,"tickSize":2,"titleFontSize":8.2,"titleFontWeight":"bold","titlePadding":10,"labelPadding":3}},
    "y":{"field":"n","type":"quantitative","scale":{"domain":[0,200],"nice":false},"axis":{"values":[0,50,100,150,200],"title":"Number of Genes","labelFontSize":6.5,"labelFontWeight":"bold","titleFontSize":8,"titleFontWeight":"bold","tickSize":3,"titlePadding":4}},
    "color":{"field":"c","type":"nominal","scale":{"domain":["BP","CC","MF"],"range":["#9E1A10","#1F9A5E","#13249A"]},"legend":{"title":null,"orient":"none","legendX":90,"legendY":-11,"direction":"vertical","symbolType":"square","symbolSize":40,"symbolStrokeColor":"#333","symbolStrokeWidth":0.8,"labelFontSize":7,"rowPadding":-2}}
   }},
  {"title":{"text":"(F)","anchor":"start","frame":"group","fontSize":16,"fontWeight":"bold","offset":-2,"dx":-40},
   "width":150,"height":89,
   "data":{"values":[
    {"t":"Protein Ubiquitination & Modification","c":"BP","n":57},
    {"t":"Immune Response","c":"BP","n":41},
    {"t":"DNA Damage Response & Apoptosis","c":"BP","n":36},
    {"t":"Autophagy regulation","c":"BP","n":34},
    {"t":"Metabolic process","c":"BP","n":31},
    {"t":"Regulation of Signaling cascades","c":"BP","n":21},
    {"t":"Regulation of host-cell viral processes","c":"BP","n":14},
    {"t":"Cell proliferation","c":"BP","n":12},
    {"t":"Transcription-related & RNA Splicing","c":"BP","n":10},
    {"t":"Membrane associated","c":"CC","n":108},
    {"t":"Organelle","c":"CC","n":111},
    {"t":"Granule","c":"CC","n":74},
    {"t":"Endosome / Lysosome","c":"CC","n":52},
    {"t":"Vesicle","c":"CC","n":21},
    {"t":"Protein and signaling complexes","c":"CC","n":10},
    {"t":"Cytoskeleton","c":"CC","n":6},
    {"t":"Protein Binding & Activity","c":"MF","n":80},
    {"t":"Ubiquitin Activity","c":"MF","n":20},
    {"t":"Ion Binding and Ion Channel Activity","c":"MF","n":17},
    {"t":"Receptor Binding & Activity","c":"MF","n":16}
   ]},
   "mark":{"type":"bar","stroke":"#555","strokeWidth":0.6},
   "encoding":{
    "x":{"field":"t","type":"nominal","sort":null,"title":"Significant GO Terms of Upregulated Genes","scale":{"paddingInner":0.28,"paddingOuter":0.2},"axis":{"labelAngle":-45,"labelFontSize":5,"labelFontWeight":"bold","labelLimit":300,"tickSize":2,"titleFontSize":8.2,"titleFontWeight":"bold","titlePadding":10,"labelPadding":3}},
    "y":{"field":"n","type":"quantitative","scale":{"domain":[0,150],"nice":false},"axis":{"values":[0,50,100,150],"title":"Number of Genes","labelFontSize":6.5,"labelFontWeight":"bold","titleFontSize":8,"titleFontWeight":"bold","tickSize":3,"titlePadding":4}},
    "color":{"field":"c","type":"nominal","scale":{"domain":["BP","CC","MF"],"range":["#9E1A10","#1F9A5E","#13249A"]},"legend":{"title":null,"orient":"none","legendX":94,"legendY":-12,"direction":"vertical","symbolType":"square","symbolSize":40,"symbolStrokeColor":"#333","symbolStrokeWidth":0.8,"labelFontSize":7,"rowPadding":-2}}
   }}
 ]},
 {"spacing":33,
  "resolve":{"scale":{"color":"independent"},"legend":{"color":"independent"}},
  "hconcat":[
  {"width":1,"height":10,"data":{"values":[]},"mark":{"type":"point","opacity":0},"encoding":{}},
  {"title":{"text":"(G)","anchor":"start","frame":"group","fontSize":16,"fontWeight":"bold","offset":14,"dx":-98},
   "width":109,"height":100,
   "data":{"values":[
    {"t":"Systemic lupus erythematosus (hsa05322)","s":22},
    {"t":"Alcoholism (hsa05034)","s":21},
    {"t":"Neutrophil extracellular trap formation (hsa04613)","s":19},
    {"t":"Viral carcinogenesis (hsa05203)","s":8},
    {"t":"Oocyte meiosis (hsa04114)","s":4},
    {"t":"Necroptosis (hsa04217)","s":4},
    {"t":"Cell cycle (hsa04110)","s":3},
    {"t":"p53 signaling pathway (hsa04115)","s":3},
    {"t":"Progesterone-mediated oocyte maturation (hsa04914)","s":2},
    {"t":"Transcriptional misregulation in cancer (hsa05202)","s":2},
    {"t":"Pyrimidine metabolism (hsa00240)","s":2},
    {"t":"Ubiquitin mediated proteolysis (hsa04120)","s":2},
    {"t":"Fanconi anemia pathway (hsa03460)","s":2},
    {"t":"Shigellosis (hsa05131)","s":1},
    {"t":"Cellular senescence (hsa04218)","s":2}
   ]},
   "mark":{"type":"bar","color":"#16238E","stroke":"#777","strokeWidth":0.8},
   "encoding":{
    "y":{"field":"t","type":"nominal","sort":null,"scale":{"paddingInner":0.15,"paddingOuter":0.1},"axis":{"title":null,"labelFontSize":3.6,"labelFontWeight":"bold","tickSize":2,"labelPadding":1,"labelLimit":200}},
    "x":{"field":"s","type":"quantitative","scale":{"domain":[0,25],"nice":false},"axis":{"values":[0,5,10,15,20,25],"title":["Enrichment Score","(-log10(p_value))"],"labelFontSize":6.5,"labelFontWeight":"bold","titleFontSize":8.5,"titleFontWeight":"bold","tickSize":3,"titlePadding":4}}
   }},
  {"title":{"text":"(H)","anchor":"start","frame":"group","fontSize":16,"fontWeight":"bold","offset":14,"dx":-106},
   "width":108,"height":100,
   "data":{"values":[
    {"t":"Lysosome (hsa04142)","s":5},
    {"t":"Insulin resistance (hsa04931)","s":4},
    {"t":"Alanine aspartate and glutamate metabolism (hsa00250)","s":3},
    {"t":"cAMP signaling pathway (hsa04024)","s":3},
    {"t":"Propanoate metabolism (hsa00640)","s":3},
    {"t":"Pathways in cancer (hsa05200)","s":3},
    {"t":"Neurotrophin signaling pathway (hsa04722)","s":2},
    {"t":"Insulin signaling pathway (hsa04910)","s":2},
    {"t":"Estrogen signaling pathway (hsa04915)","s":2},
    {"t":"GnRH signaling pathway (hsa04912)","s":2},
    {"t":"Fluid shear stress and atherosclerosis (hsa05418)","s":2},
    {"t":"HIF-1 signaling pathway (hsa04066)","s":2},
    {"t":"Other glycan degradation (hsa00511)","s":2},
    {"t":"Relaxin signaling pathway (hsa04926)","s":2},
    {"t":"Axon guidance (hsa04360)","s":2}
   ]},
   "mark":{"type":"bar","color":"#9A1B12","stroke":"#777","strokeWidth":0.8},
   "encoding":{
    "y":{"field":"t","type":"nominal","sort":null,"scale":{"paddingInner":0.15,"paddingOuter":0.1},"axis":{"title":null,"labelFontSize":3.7,"labelFontWeight":"bold","tickSize":2,"labelPadding":1,"labelLimit":200}},
    "x":{"field":"s","type":"quantitative","scale":{"domain":[0,6],"nice":false},"axis":{"values":[0,2,4,6],"title":["Enrichment Score","(-log10(p_value))"],"labelFontSize":6.5,"labelFontWeight":"bold","titleFontSize":8.5,"titleFontWeight":"bold","tickSize":3,"titlePadding":4}}
   }}
 ]}
]}
]
}
